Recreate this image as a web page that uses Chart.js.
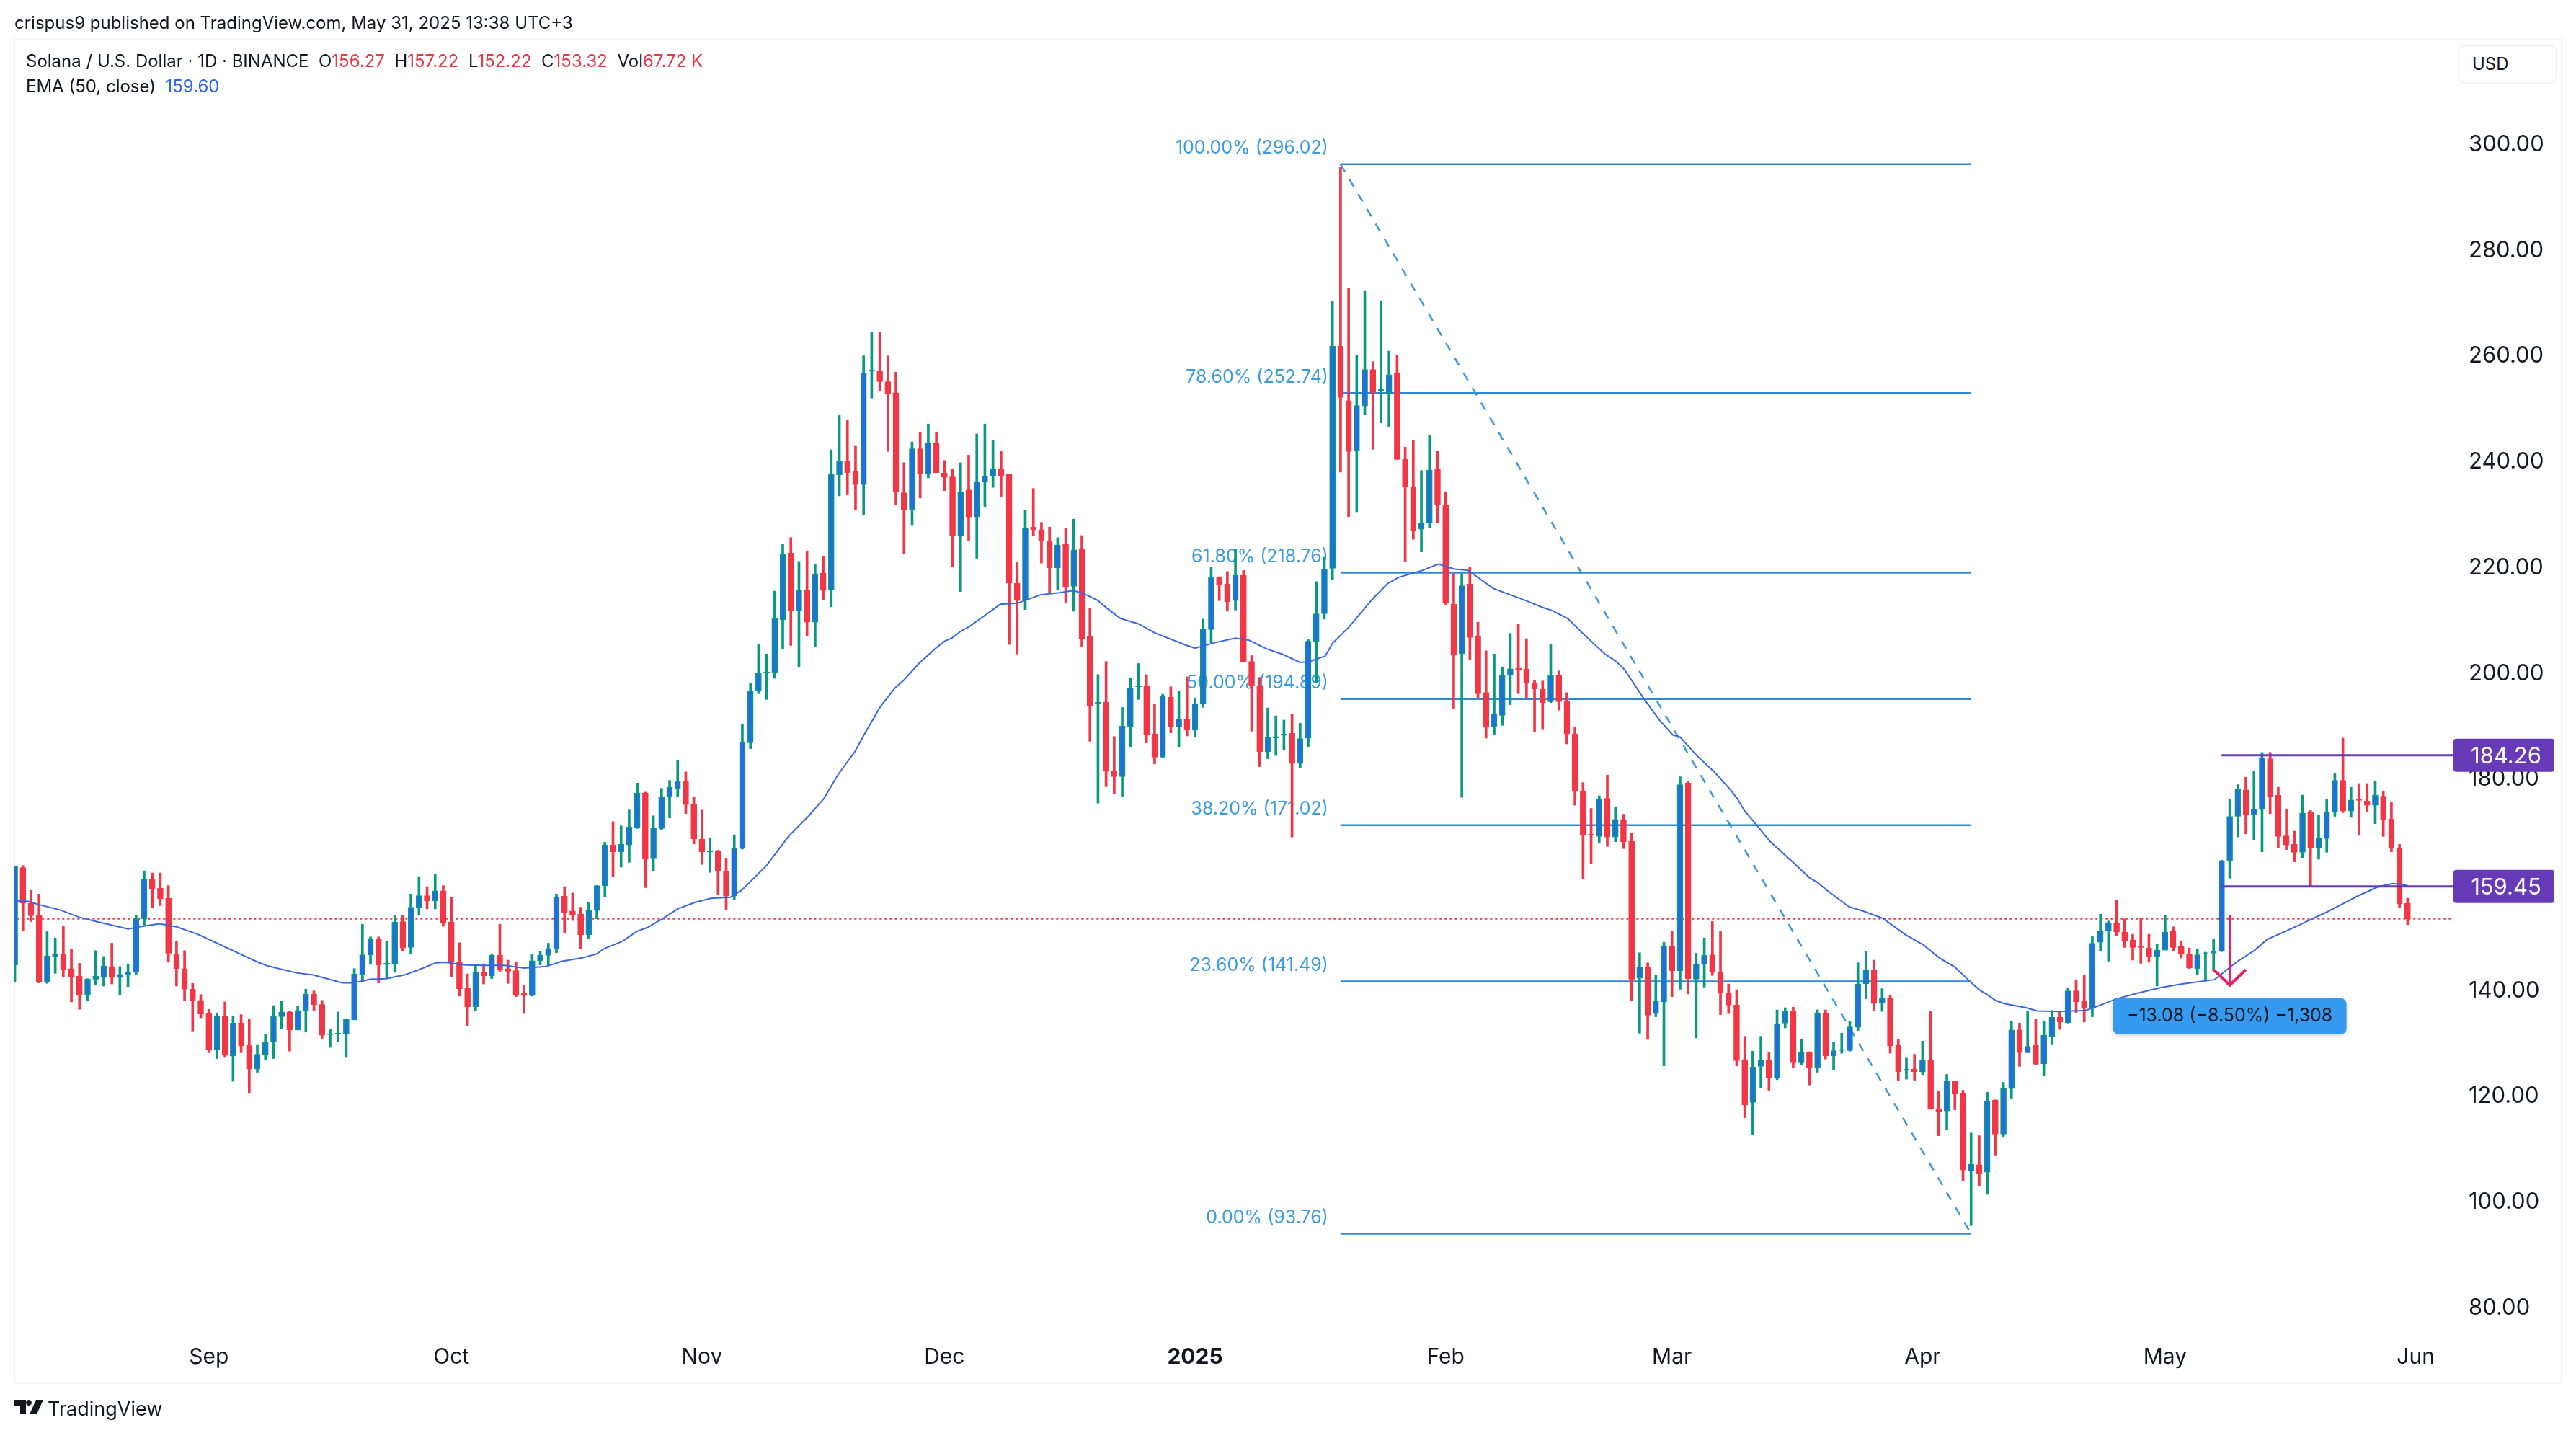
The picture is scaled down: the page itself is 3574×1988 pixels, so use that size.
<!DOCTYPE html>
<html>
<head>
<meta charset="utf-8">
<title>Solana / U.S. Dollar</title>
<script src="https://cdn.jsdelivr.net/npm/chart.js@4"></script>
<style>
  html, body { margin: 0; padding: 0; background: #fff; }
  body { width: 3574px; height: 1988px; position: relative; overflow: hidden; font-family: Inter, sans-serif; color: #131722; }
  canvas { position: absolute; left: 0; top: 0; }
  .txt { position: absolute; white-space: pre; font-size: 24px; line-height: 32px; }
  .frame { position: absolute; left: 19px; top: 54px; width: 3532px; height: 1862px; border: 2px solid #f0f1f3; }
  .usd { position: absolute; left: 3410px; top: 62px; width: 116px; height: 50px; padding-left: 18px; border: 2px solid #f1f2f4; border-radius: 10px; font-size: 24px; line-height: 50px; background: #fff; }
  .red { color: #e5394a; }
  .blue { color: #2e66e8; }
</style>
</head>
<body>
<div class="frame"></div>
<canvas id="chart" width="3574" height="1988"></canvas>
<div class="txt" style="left:20px;top:16px">crispus9 published on TradingView.com, May 31, 2025 13:38 UTC+3</div>
<div class="txt" style="left:36px;top:69px">Solana / U.S. Dollar · 1D · BINANCE  O<span class="red">156.27</span>  H<span class="red">157.22</span>  L<span class="red">152.22</span>  C<span class="red">153.32</span>  Vol<span class="red">67.72 K</span></div>
<div class="txt" style="left:36px;top:104px">EMA (50, close)  <span class="blue">159.60</span></div>
<div class="usd">USD</div>
<svg style="position:absolute;left:20px;top:1942px" width="40" height="20" viewBox="0 0 40 20">
  <path d="M0 0H16V20H8V8H0Z M20 0a4 4 0 1 1 -0.01 0Z M30 0H40L31 20H21Z" fill="#131722"/>
</svg>
<div class="txt" style="left:66px;top:1939px;font-size:27px">TradingView</div>
<script>
// candles, oldest first (Aug 8 2024 .. May 31 2025), x = candle index
const opens = [
  144.6,163.0,156.3,154.0,141.4,146.2,146.7,143.9,142.5,139.0,141.9,142.2,144.3,142.2,142.8,143.2,153.3,160.8,159.1,157.2,
  146.7,143.9,140.0,137.9,135.4,128.5,134.9,127.4,133.6,129.4,124.9,127.7,130.0,134.8,135.7,132.3,136.0,139.1,137.1,131.4,
  131.5,131.5,134.2,142.8,146.5,149.4,144.7,144.8,152.8,147.9,155.5,157.7,156.7,158.6,152.7,145.1,140.2,136.7,143.2,142.5,
  146.4,143.9,143.5,139.2,138.8,145.4,146.4,147.7,157.6,154.8,154.2,150.3,154.9,159.6,167.3,166.0,167.3,170.5,177.1,164.8,
  170.4,176.4,178.0,179.3,175.0,168.4,166.0,166.1,162.3,157.6,166.6,186.6,196.5,199.8,199.8,209.9,222.5,211.6,215.5,209.4,
  218.7,215.6,237.3,239.9,237.9,235.4,256.9,257.0,254.9,252.8,233.9,230.7,242.2,237.5,243.3,237.6,236.9,225.7,234.4,229.3,
  235.9,237.1,238.4,237.4,216.8,213.6,227.4,226.9,224.7,219.7,224.2,216.2,223.2,206.7,193.9,194.3,181.3,180.2,189.7,197.2,
  197.4,188.3,183.9,195.2,189.6,191.0,189.0,193.9,208.0,218.0,216.6,213.5,218.3,202.0,197.4,184.9,187.5,188.0,188.4,182.7,
  187.5,205.8,211.0,219.6,261.6,251.3,241.9,250.3,257.2,253.2,252.7,256.5,240.2,235.0,227.0,228.2,238.4,231.5,212.8,203.4,
  216.6,206.8,196.1,189.6,191.8,199.4,200.7,200.6,197.8,196.7,194.4,199.3,194.5,188.3,177.5,169.3,168.9,176.1,168.8,172.1,
  168.0,142.1,144.1,135.4,137.6,148.1,143.5,179.0,141.9,144.7,146.5,143.3,139.2,137.0,126.7,118.6,125.4,126.5,123.2,133.6,
  135.8,126.1,128.0,125.2,135.5,127.4,128.4,128.4,132.8,141.0,143.6,137.4,138.3,129.4,124.7,124.9,124.4,126.6,117.4,117.0,
  122.6,120.3,105.6,106.8,105.4,119.0,112.6,121.2,132.3,128.0,129.4,125.9,131.1,134.7,133.7,139.7,137.7,136.5,148.9,151.0,
  152.4,150.8,149.3,148.1,147.8,146.2,147.4,151.0,148.1,146.7,143.9,146.8,146.8,147.2,164.3,172.7,177.7,173.0,174.0,183.6,
  176.7,169.0,167.4,165.9,173.4,166.7,168.5,173.5,179.5,173.7,175.9,175.6,174.8,176.5,172.2,166.6,156.27
];
const highs = [
  163.3,163.4,158.7,158.0,150.9,149.7,152.0,147.6,144.9,142.0,147.3,146.2,148.7,144.3,144.8,154.0,162.4,162.0,162.0,159.6,
  149.0,147.3,141.1,139.0,136.2,135.4,137.6,134.9,135.2,134.3,129.4,131.5,136.9,137.8,135.9,136.8,140.0,139.7,137.9,132.4,
  135.7,134.4,143.9,152.3,149.9,149.9,149.0,153.9,154.0,158.0,161.3,159.4,161.7,159.6,157.4,148.8,142.9,144.5,144.8,146.7,
  152.3,145.5,145.2,140.8,146.6,147.2,148.7,158.0,159.4,158.2,155.5,156.5,159.6,167.8,171.7,170.9,173.9,179.0,177.3,172.8,
  178.0,179.5,183.3,181.1,176.4,173.9,168.5,166.3,164.8,169.2,190.1,197.9,205.3,203.4,215.3,224.1,225.4,220.9,222.9,220.4,
  221.8,242.0,248.5,247.6,242.7,259.8,264.2,264.2,259.8,256.7,239.6,243.5,245.4,246.9,245.4,240.0,238.3,239.6,241.0,245.0,
  246.9,243.8,241.7,237.4,220.7,230.6,234.7,228.3,227.4,225.4,227.2,228.9,225.8,212.0,199.5,202.0,187.8,193.3,198.8,201.6,
  199.5,194.0,195.8,197.2,196.4,199.1,195.0,210.0,219.8,218.0,219.0,223.2,219.2,203.1,199.0,193.2,191.7,190.9,192.0,190.3,
  206.1,217.1,221.7,270.2,295.4,272.6,259.9,272.0,258.7,270.2,260.7,259.9,242.5,243.8,238.1,244.8,241.7,234.1,218.6,218.6,
  219.8,209.4,204.0,203.4,200.8,207.3,209.0,206.3,198.5,198.3,205.3,200.2,196.1,189.6,179.1,174.2,176.6,180.5,174.5,173.1,
  169.5,146.9,145.0,142.7,148.9,151.0,180.2,179.4,146.8,149.7,152.8,150.9,141.0,139.9,131.1,128.3,131.1,128.0,136.1,136.5,
  136.6,130.6,128.2,136.1,136.1,130.0,131.7,134.0,145.0,147.2,145.5,140.1,138.9,130.5,127.0,127.7,130.2,135.8,120.8,123.9,
  122.6,120.9,112.8,112.3,120.5,119.1,122.4,134.0,133.6,135.8,134.3,133.9,136.0,135.8,140.3,141.8,142.7,150.0,154.2,152.9,
  156.9,153.3,150.4,153.4,150.4,148.6,154.0,151.8,149.0,147.8,147.6,147.0,149.5,164.4,176.0,178.7,180.1,181.3,184.8,184.8,
  178.2,174.1,169.9,176.7,173.8,172.9,175.9,180.8,187.5,178.2,178.9,178.9,179.4,177.4,175.3,167.4,157.22
];
const lows = [
  141.4,151.1,152.8,141.2,141.1,143.0,142.4,137.6,136.2,137.8,140.8,140.6,141.0,138.9,140.5,142.8,152.0,155.5,155.8,145.1,
  140.6,137.8,132.1,134.6,128.0,126.9,127.1,122.6,128.0,120.3,124.3,126.7,126.9,132.6,128.3,132.3,131.9,135.9,130.7,129.0,
  130.1,127.1,134.2,141.4,144.7,141.2,142.0,143.2,147.3,146.7,154.1,155.2,155.2,151.9,142.3,138.7,133.1,136.0,141.0,142.0,
  143.4,141.1,138.6,135.4,138.7,144.6,144.5,146.9,150.7,153.0,147.7,149.6,153.3,157.5,161.3,163.1,164.0,170.4,159.2,162.3,
  170.1,172.4,176.4,173.2,167.5,163.6,162.1,157.8,155.1,156.9,166.5,185.5,195.9,194.8,198.8,204.3,205.0,201.0,206.9,204.7,
  213.6,212.3,233.3,233.5,230.6,229.8,251.8,253.1,241.7,231.6,222.3,227.7,232.9,236.7,237.7,234.3,219.9,215.2,224.9,221.5,
  231.2,234.9,233.2,205.2,203.4,211.8,225.8,220.6,215.0,215.6,213.1,211.5,204.7,186.9,175.2,178.3,177.0,176.4,185.8,194.8,
  186.6,182.6,183.8,188.5,185.8,187.9,187.8,193.3,205.5,213.5,211.5,211.7,201.9,188.8,182.1,183.6,184.2,185.2,168.8,181.9,
  185.9,198.0,210.0,217.5,237.8,229.4,230.3,248.6,242.1,247.1,246.4,240.2,220.9,225.1,222.7,227.2,228.2,212.8,193.0,176.3,
  202.4,195.1,187.5,188.1,189.9,193.8,195.9,195.1,188.7,189.1,194.2,192.8,186.4,174.8,160.9,163.8,167.7,167.0,167.9,166.6,
  137.9,131.7,130.5,134.8,125.5,138.6,140.0,139.1,130.8,140.4,142.6,135.2,135.4,125.5,115.7,112.5,121.4,120.9,122.9,132.7,
  125.2,125.7,121.9,124.3,126.8,124.8,127.9,128.3,132.2,138.2,135.9,135.8,127.9,122.7,123.0,122.8,123.8,117.3,112.3,113.5,
  117.2,103.8,95.3,102.8,101.2,108.5,112.0,119.4,125.4,128.0,125.8,123.6,129.5,132.4,133.6,135.6,133.8,134.8,147.2,145.3,
  150.1,147.9,145.5,144.9,145.1,140.6,147.4,147.3,145.9,143.9,142.8,141.6,143.5,147.1,161.0,168.8,169.4,168.3,166.0,173.2,
  166.8,166.4,164.1,164.9,159.5,164.6,165.9,172.7,173.4,172.5,169.1,173.5,171.3,168.9,166.0,155.4,152.22
];
const closes = [
  163.3,156.3,153.9,141.4,146.3,146.7,143.6,142.4,139.0,141.9,142.5,144.4,142.2,142.8,143.3,153.3,160.8,158.9,157.1,146.8,
  143.9,140.0,137.8,135.3,128.5,134.9,127.5,133.6,129.3,124.9,127.7,130.0,134.9,135.7,132.3,136.0,139.1,137.1,131.3,131.6,
  131.7,134.3,142.9,146.5,149.4,144.6,144.9,152.7,147.8,155.5,157.7,156.7,158.6,152.5,145.1,140.1,136.7,143.2,142.5,146.4,
  143.7,143.4,138.9,138.8,145.4,146.4,147.7,157.5,154.4,154.1,150.3,154.9,159.6,167.3,166.0,167.4,170.7,177.1,164.6,170.5,
  176.4,178.2,179.3,174.9,168.4,166.0,166.2,162.3,157.6,166.6,186.7,196.4,199.8,200.0,210.1,222.2,211.6,215.4,209.4,218.4,
  215.4,237.4,239.9,237.7,235.4,256.6,257.1,254.9,252.7,234.1,230.6,242.2,237.5,243.3,237.7,236.8,225.8,234.0,229.3,236.0,
  237.1,238.3,237.1,216.8,213.5,227.2,226.9,224.7,219.7,224.0,216.0,223.1,206.2,193.6,194.3,181.2,180.2,189.8,197.0,197.4,
  188.1,183.9,195.4,189.7,191.1,189.0,194.0,208.1,217.9,216.5,213.3,218.3,201.9,197.3,184.9,187.6,187.8,188.3,182.7,187.4,
  205.8,211.0,219.4,261.6,251.9,241.7,250.4,257.2,252.9,253.5,256.2,240.2,235.0,226.8,228.1,238.2,231.7,213.0,203.2,216.3,
  206.5,195.9,189.5,192.1,199.4,200.6,200.4,197.9,196.8,194.2,199.3,194.4,188.3,177.4,169.1,169.1,176.0,168.8,172.1,167.9,
  141.9,144.2,135.1,137.7,148.2,143.5,178.7,142.0,144.8,146.4,143.2,139.2,137.0,126.5,118.1,125.3,126.5,123.3,133.5,135.8,
  126.1,128.0,125.2,135.4,127.4,128.4,128.6,132.9,141.0,143.6,137.3,138.3,129.3,124.4,124.9,124.4,126.6,117.3,116.9,122.7,
  120.2,105.8,106.9,105.1,118.9,112.6,121.2,132.3,128.0,129.2,125.8,131.3,134.7,133.8,139.7,137.6,136.4,148.7,151.0,152.6,
  150.8,149.2,147.9,147.9,146.2,147.4,150.8,147.9,146.6,144.0,146.5,146.9,147.2,164.3,172.7,177.8,173.0,174.1,183.8,176.5,
  168.9,167.3,165.9,173.3,166.7,168.5,173.5,179.5,173.7,175.8,175.7,174.8,176.7,172.1,166.7,156.1,153.32
];

// EMA(50) line
const emaIdx = [
  0,1.7,3.1,5.6,8,10.1,14,15.8,17.9,20,22.8,25.3,28.1,30.1,31.3,34.8,36.9,40.5,41.9,44,45.9,48.2,50,52.1,53.2,
  55.8,58.5,60.6,63,65.7,67.7,70.1,72,72.8,75.2,76.9,78.3,80.3,82,84.1,86.1,88.5,89.9,93,95.7,98.1,100.1,101.8,103.9,105.2,
  107.1,108.9,110,111.9,114,115,116,117,118,120.1,121.9,124,126.9,129.2,131,132.4,134,135.3,136.8,139,141,145,146,148.6,151,152.7,
  154.8,156.9,159,160.2,162.1,163,165.1,167.9,169.8,171.2,174.1,176.1,178,179.8,182.9,186.9,189,190.2,192.1,194.1,196.7,198.1,199.1,
  201.5,203.5,205.1,206,208,210.1,212.2,213.1,214,215.5,217.1,219.9,222,223,224.1,226.9,228.8,231.1,233.9,236,238.1,240,241.9,243.1,
  244.1,245,246.1,248.8,250.2,252.9,256.2,257.3,260,262.7,265.4,268.1,272.1,274.8,277.1,278.6,282.1,286,289.8,292.4,294.2,296
];
const emaValues = [
  156.7,156.6,155.95,155,153.6,152.8,151.4,151.9,152.4,151.8,150.3,148.5,146.5,145.1,144.4,143.1,142.7,141.2,141.2,141.9,142,142.7,143.7,145,145.1,
  144.6,144.5,144.5,144,144.3,145.3,145.9,146.7,147.6,149.1,150.9,151.7,153.5,155.2,156.4,157.2,157.4,158.7,163.4,168.9,172.6,176.1,180.5,184.9,188.5,
  193.5,197,198.5,201.7,204.6,205.8,206.5,207.7,208.5,210.8,212.8,213,214.6,215,215.4,214.7,213.5,211.8,210.1,209.1,207.4,205,204.5,205.6,206.4,206,
  204.4,203.3,201.8,202,203,205.4,208.6,213.7,216.7,217.9,219.2,220.4,219.5,219.2,215.8,213.5,212.2,211.6,210.1,207.1,203.4,202,200.5,
  195,190.8,188.1,187.7,184.3,181.3,177.8,176,173.7,171,168,164.1,161.1,160.2,158.8,155.6,154.7,153.4,150.3,148.5,145.9,144.2,141.4,139.8,
  138.9,137.9,137.3,136.5,135.9,135.8,136,136.6,138.2,139.3,140.3,141,141.8,145.1,147.4,149.4,151.8,154.6,157.6,159.4,160,159.6
];

// fib retracement
const fibStart = 164;
const fibEnd = 242;
const fibPrices = [296.02, 252.74, 218.76, 194.89, 171.02, 141.49, 93.76];
const fibLabels = ['100.00% (296.02)', '78.60% (252.74)', '61.80% (218.76)', '50.00% (194.89)', '38.20% (171.02)', '23.60% (141.49)', '0.00% (93.76)'];

// horizontal levels
const levelPrices = [184.26, 159.45];
const levelLabels = ['184.26', '159.45'];
const levelStart = 273;
const levelEnd = 301.6;
const lastClose = 153.32;

// short move marker
const arrowIdx = 274;
const arrowTop = 154.04;
const arrowBottom = 140.76;
const arrowWingIdx = [272, 276];
const arrowWingPrice = 143.72;
const moveLabel = '\u221213.08 (\u22128.50%) \u22121,308';

const monthIdx = [24, 54, 85, 115, 146, 177, 205, 236, 266, 297];
const monthLabels = ['Sep', 'Oct', 'Nov', 'Dec', '2025', 'Feb', 'Mar', 'Apr', 'May', 'Jun'];
const priceTicks = [80, 100, 120, 140, 160, 180, 200, 220, 240, 260, 280, 300];

const upEdge = '#089981';
const upFill = '#1f6fdc';
const downColor = '#f23645';
const fibColor = '#2f88d6';

const isUp = opens.map((o, i) => closes[i] >= o);

// labels under the candles
const fibLabelPlugin = {
  id: 'fibLabels',
  beforeDatasetsDraw(chart) {
    const { ctx, scales: { x, y } } = chart;
    ctx.save();
    ctx.font = '25px Inter';
    ctx.fillStyle = '#3b9be0';
    ctx.textAlign = 'right';
    ctx.textBaseline = 'middle';
    fibPrices.forEach((p, i) => {
      ctx.fillText(fibLabels[i], x.getPixelForValue(fibStart) - 17, y.getPixelForValue(p) - 22);
    });
    ctx.restore();
  }
};

// purple price tags and the move label go on top of everything
const tagPlugin = {
  id: 'tags',
  afterDraw(chart) {
    const { ctx, scales: { x, y } } = chart;
    ctx.save();
    ctx.textAlign = 'center';
    ctx.textBaseline = 'middle';
    levelPrices.forEach((p, i) => {
      const py = y.getPixelForValue(p);
      ctx.fillStyle = '#673ab7';
      ctx.beginPath();
      ctx.roundRect(x.right - 7, py - 23, 140, 46, 4);
      ctx.fill();
      ctx.fillStyle = '#fff';
      ctx.font = '31px Inter';
      ctx.fillText(levelLabels[i], x.right + 66, py + 2);
    });
    const cx = x.getPixelForValue(arrowIdx);
    const top = y.getPixelForValue(arrowBottom) + 18;
    ctx.shadowColor = 'rgba(0,0,0,0.18)';
    ctx.shadowBlur = 6;
    ctx.shadowOffsetY = 2;
    ctx.fillStyle = '#359bf0';
    ctx.beginPath();
    ctx.roundRect(cx - 162, top, 324, 50, 8);
    ctx.fill();
    ctx.shadowColor = 'transparent';
    ctx.fillStyle = '#131722';
    ctx.font = '25px Inter';
    ctx.fillText(moveLabel, cx, top + 25);
    ctx.restore();
  }
};

function hline(x1, x2, p, color, width, dash) {
  return {
    type: 'line',
    data: [{ x: x1, y: p }, { x: x2, y: p }],
    borderColor: color,
    borderWidth: width,
    borderDash: dash || [],
    pointRadius: 0,
    order: 5
  };
}

new Chart(document.getElementById('chart'), {
  type: 'bar',
  plugins: [fibLabelPlugin, tagPlugin],
  data: {
    datasets: [
      hline(-1, levelEnd, lastClose, downColor, 2, [3, 4]),
      ...fibPrices.map(p => hline(fibStart, fibEnd, p, fibColor, 2.5)),
      {
        type: 'line',
        data: [{ x: fibStart, y: fibPrices[0] }, { x: fibEnd, y: fibPrices[6] }],
        borderColor: '#3c97d6',
        borderWidth: 2.5,
        borderDash: [12, 12],
        pointRadius: 0,
        order: 5
      },
      {
        label: 'wicks',
        data: opens.map((o, i) => ({ x: i, y: [lows[i], highs[i]] })),
        backgroundColor: isUp.map(u => u ? upEdge : downColor),
        barThickness: 3,
        grouped: false,
        order: 4
      },
      {
        label: 'bodies',
        data: opens.map((o, i) => ({ x: i, y: [o, closes[i]] })),
        backgroundColor: isUp.map(u => u ? upFill : downColor),
        borderColor: isUp.map(u => u ? upEdge : downColor),
        borderWidth: 1.5,
        borderSkipped: false,
        barThickness: 8,
        grouped: false,
        order: 3
      },
      {
        type: 'line',
        label: 'EMA',
        data: emaIdx.map((d, i) => ({ x: d, y: emaValues[i] })),
        borderColor: '#3a66e0',
        borderWidth: 2,
        pointRadius: 0,
        order: 2
      },
      ...levelPrices.map(p => ({ ...hline(levelStart, levelEnd, p, '#673ab7', 3), order: 1 })),
      {
        type: 'line',
        data: [{ x: arrowIdx, y: arrowTop }, { x: arrowIdx, y: arrowBottom }],
        borderColor: '#e91e63',
        borderWidth: 3,
        pointRadius: 0,
        order: 1
      },
      {
        type: 'line',
        data: [
          { x: arrowWingIdx[0], y: arrowWingPrice },
          { x: arrowIdx, y: arrowBottom },
          { x: arrowWingIdx[1], y: arrowWingPrice }
        ],
        borderColor: '#e91e63',
        borderWidth: 4,
        pointRadius: 0,
        order: 1
      }
    ]
  },
  options: {
    responsive: false,
    animation: false,
    devicePixelRatio: 1,
    layout: { padding: { left: 20, top: 55, right: 20, bottom: 71 } },
    plugins: { legend: { display: false }, tooltip: { enabled: false } },
    scales: {
      x: {
        type: 'linear',
        offset: false,
        min: -0.05,
        max: 302.3,
        grid: { display: false },
        border: { display: false },
        afterBuildTicks(scale) { scale.ticks = monthIdx.map(v => ({ value: v })); },
        afterFit(scale) { scale.height = 62; },
        ticks: {
          autoSkip: false,
          maxRotation: 0,
          padding: 2,
          color: '#131722',
          font: ctx => ({ family: 'Inter', size: 30, weight: ctx.tick && ctx.tick.value === 146 ? 'bold' : 'normal' }),
          callback: v => monthLabels[monthIdx.indexOf(v)]
        }
      },
      y: {
        position: 'right',
        min: 74.21,
        max: 319.58,
        grid: { display: false },
        border: { display: false },
        afterBuildTicks(scale) { scale.ticks = priceTicks.map(v => ({ value: v })); },
        afterFit(scale) { scale.width = 143; },
        ticks: {
          padding: 6,
          labelOffset: 2,
          color: '#131722',
          font: { family: 'Inter', size: 31 },
          callback: v => v.toFixed(2)
        }
      }
    }
  }
});
</script>
</body>
</html>
